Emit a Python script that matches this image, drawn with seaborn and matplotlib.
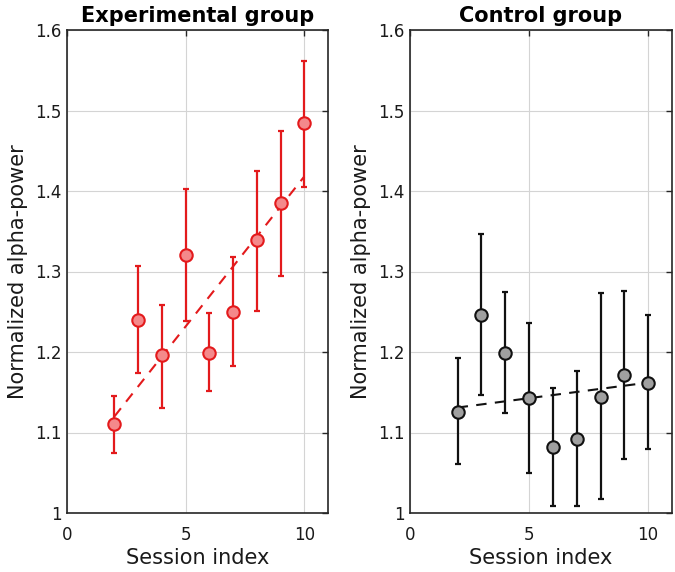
import numpy as np
import pandas as pd
import matplotlib
matplotlib.use("Agg")
import matplotlib.pyplot as plt
import seaborn as sns

sessions = [2, 3, 4, 5, 6, 7, 8, 9, 10]

exp_mean = [1.110, 1.240, 1.196, 1.320, 1.199, 1.250, 1.339, 1.385, 1.484]
exp_upper = [1.145, 1.307, 1.259, 1.402, 1.249, 1.318, 1.425, 1.474, 1.562]
exp_lower = [1.074, 1.174, 1.131, 1.238, 1.151, 1.183, 1.251, 1.294, 1.405]

ctl_mean = [1.125, 1.246, 1.199, 1.143, 1.082, 1.092, 1.144, 1.171, 1.162]
ctl_upper = [1.192, 1.347, 1.274, 1.236, 1.155, 1.176, 1.273, 1.276, 1.246]
ctl_lower = [1.061, 1.146, 1.124, 1.050, 1.009, 1.009, 1.018, 1.067, 1.080]

trend_sessions = [2, 10]
exp_trend = [1.120, 1.418]
ctl_trend = [1.131, 1.162]

titles = ["Experimental group", "Control group"]
xlabel = "Session index"
ylabel = "Normalized alpha-power"
xticks = [0, 5, 10]
yticks = [1.0, 1.1, 1.2, 1.3, 1.4, 1.5, 1.6]
ytick_labels = ["1", "1.1", "1.2", "1.3", "1.4", "1.5", "1.6"]

sns.set_style("white")
plt.rcParams["font.family"] = ["DejaVu Sans"]

fig = plt.figure(figsize=(6.75, 5.72), dpi=100)
W, H = 675, 572
ax1 = fig.add_axes([67 / W, 1 - 513 / H, (328 - 67) / W, (513 - 30) / H])
ax2 = fig.add_axes([410 / W, 1 - 513 / H, (672 - 410) / W, (513 - 30) / H])

groups = [
    (ax1, exp_mean, exp_upper, exp_lower, exp_trend, "#e31a1c", "#f4898b"),
    (ax2, ctl_mean, ctl_upper, ctl_lower, ctl_trend, "#111111", "#a0a0a0"),
]

for (ax, mean, up, lo, trend, edge, face), title in zip(groups, titles):
    df = pd.DataFrame({"session": sessions, "mean": mean})
    m = np.array(mean)
    yerr = np.vstack([m - np.array(lo), np.array(up) - m])
    ax.errorbar(sessions, mean, yerr=yerr, fmt="none", ecolor=edge,
                elinewidth=1.6, capsize=2.2, capthick=1.6, zorder=2)
    tdf = pd.DataFrame({"session": trend_sessions, "trend": trend})
    sns.lineplot(data=tdf, x="session", y="trend", ax=ax, color=edge,
                 linestyle=(0, (5, 4)), linewidth=1.5, zorder=3)
    sns.scatterplot(data=df, x="session", y="mean", ax=ax, s=80,
                    color=face, edgecolor=edge, linewidth=1.5, zorder=4)

    ax.set_xlim(0, 11)
    ax.set_ylim(1.0, 1.6)
    ax.set_xticks(xticks)
    ax.set_yticks(yticks)
    ax.set_yticklabels(ytick_labels)
    ax.grid(True, color="#d4d4d4", linewidth=0.8)
    ax.set_axisbelow(True)
    ax.tick_params(direction="in", length=4, width=1, labelsize=12,
                   top=True, right=True, colors="#262626",
                   labelcolor="#1a1a1a", pad=4)
    ax.tick_params(axis="x", pad=9)
    for s in ax.spines.values():
        s.set_color("#262626")
        s.set_linewidth(1.2)
        s.set_visible(True)
    ax.set_xlabel(xlabel, fontsize=15, color="#1a1a1a", labelpad=3)
    ax.set_ylabel(ylabel, fontsize=15, color="#1a1a1a", labelpad=5)
    ax.set_title(title, fontsize=15, fontweight="bold", color="black", pad=6)

fig.savefig("out.png", dpi=100)
